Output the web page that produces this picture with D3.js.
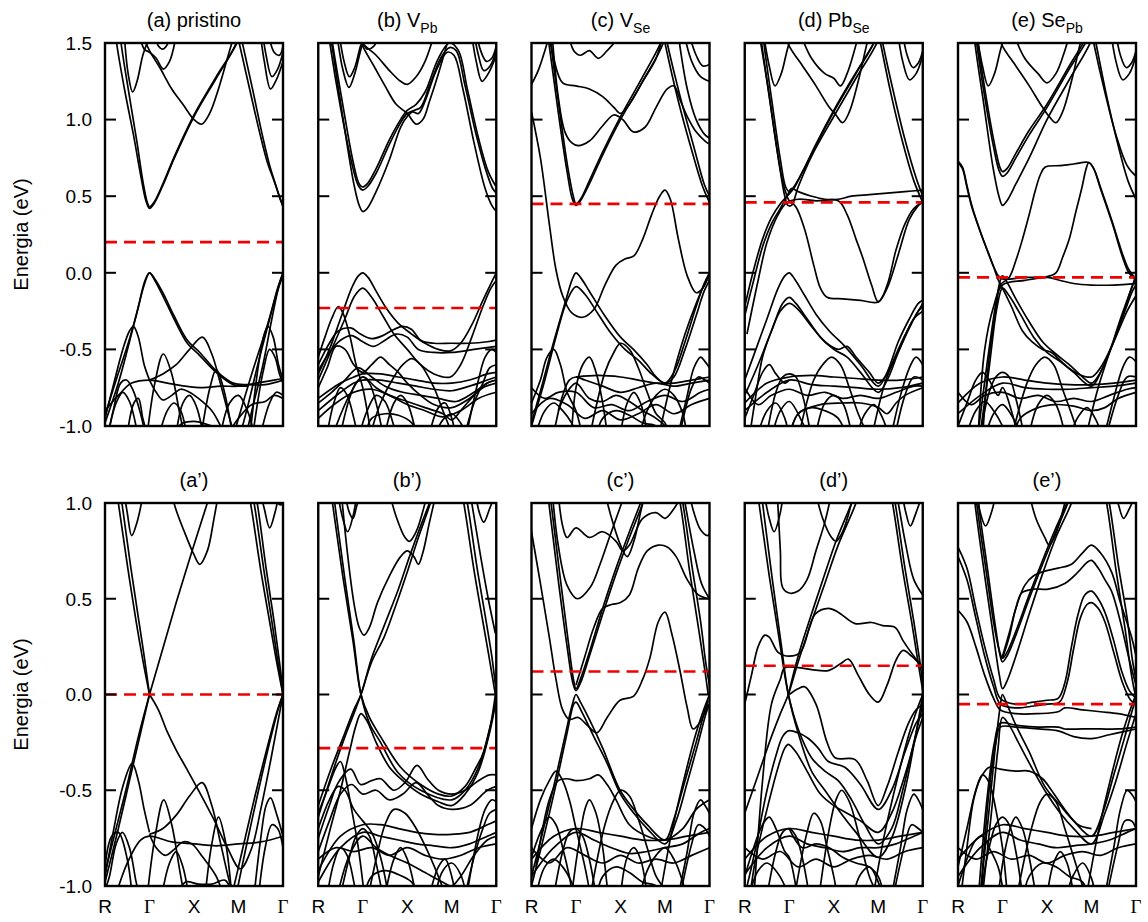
<!DOCTYPE html>
<html>
<head>
<meta charset="utf-8">
<script src="https://cdn.jsdelivr.net/npm/d3@7"></script>
<style>
  html, body { margin: 0; padding: 0; background: #fff; }
  svg { display: block; }
  text { font-family: "Liberation Sans", Arial, Helvetica, sans-serif; fill: #000; }
</style>
</head>
<body>
<svg id="chart" width="1148" height="922"></svg>
<script>
// ---- k-path and axis labels ----
const kLabels = ["R", "Γ", "X", "M", "Γ"];
const kTicks = [0, 1, 2, 3, 4];
const yTicksTop = [-1.0, -0.5, 0.0, 0.5, 1.0, 1.5];
const yTicksBottom = [-1.0, -0.5, 0.0, 0.5, 1.0];

// ---- panel titles (main text, subscript) ----
const titlesTop = ["(a) pristino", "(b) V", "(c) V", "(d) Pb", "(e) Se"];
const subsTop = ["", "Pb", "Se", "Se", "Pb"];
const titlesBottom = ["(a’)", "(b’)", "(c’)", "(d’)", "(e’)"];

// ---- Fermi levels (eV) ----
const fermiTop = [0.20, -0.23, 0.45, 0.46, -0.03];
const fermiBottom = [0.00, -0.28, 0.12, 0.15, -0.05];

// ---- bands: each band is a list of [k, E] points along R-Γ-X-M-Γ ----
const bandsA = [
  [[0.1,1.9],[0.26,1.5],[0.45,1.18],[0.64,0.9],[0.8,0.64],[0.92,0.47],[1,0.42],[1.1,0.45],[1.3,0.57],[1.56,0.75],[2,1.02],[2.5,1.27],[3,1.52],[3.2,1.7]],
  [[0.2,1.9],[0.36,1.5],[0.55,1.15],[0.72,0.85],[0.85,0.6],[0.95,0.46],[1,0.43],[1.1,0.46],[1.3,0.58],[1.56,0.76],[2,1.03],[2.5,1.28],[2.95,1.5],[3.1,1.7]],
  [[2.7,1.9],[3.0,1.52],[3.25,1.2],[3.48,0.91],[3.65,0.72],[3.8,0.6],[3.92,0.5],[4,0.43]],
  [[2.8,1.9],[3.05,1.55],[3.3,1.22],[3.55,0.88],[3.7,0.7],[3.85,0.56],[3.95,0.47],[4,0.44]],
  [[0.85,1.55],[1,1.45],[1.25,1.33],[1.5,1.2],[1.75,1.1],[2,1.0],[2.17,0.97],[2.35,1.04],[2.55,1.2],[2.75,1.4],[2.9,1.55]],
  [[0.75,1.6],[0.88,1.46],[1,1.44],[1.15,1.4],[1.31,1.33],[1.45,1.38],[1.6,1.55]],
  [[0.42,1.6],[0.52,1.3],[0.62,1.18],[0.72,1.25],[0.85,1.42],[0.95,1.5],[1.05,1.55]],
  [[3.45,1.65],[3.58,1.38],[3.72,1.2],[3.85,1.26],[4,1.38]],
  [[3.5,1.65],[3.62,1.42],[3.75,1.28],[3.88,1.33],[4,1.44]],
  [[3.65,1.6],[3.8,1.44],[3.92,1.42],[4,1.48]],
  [[1.1,1.6],[1.2,1.48],[1.3,1.46],[1.45,1.52],[1.5,1.6]],
  [[0,-0.98],[0.3,-0.72],[0.55,-0.45],[0.75,-0.22],[0.9,-0.05],[1,0],[1.12,-0.04],[1.3,-0.13],[1.55,-0.28],[1.85,-0.44],[2.13,-0.52],[2.5,-0.64],[2.88,-0.72],[3.2,-0.73],[3.6,-0.73],[4,-0.7]],
  [[0,-0.93],[0.25,-0.7],[0.5,-0.48],[0.7,-0.28],[0.88,-0.08],[1,0],[1.12,-0.05],[1.3,-0.15],[1.55,-0.3],[1.85,-0.46],[2.13,-0.54],[2.5,-0.65],[2.88,-0.73],[3.2,-0.74]],
  [[0,-0.95],[0.2,-0.72],[0.4,-0.5],[0.55,-0.38],[0.64,-0.35],[0.75,-0.42],[0.88,-0.6],[1,-0.7]],
  [[2.8,-1.15],[3.05,-0.9],[3.33,-0.63],[3.63,-0.36],[3.85,-0.14],[4,0]],
  [[2.95,-1.15],[3.2,-0.88],[3.45,-0.58],[3.7,-0.3],[3.88,-0.1],[4,0]],
  [[3.1,-1.15],[3.3,-0.9],[3.55,-0.6],[3.75,-0.3],[3.9,-0.1],[4,-0.02]],
  [[3.25,-1.08],[3.45,-0.6],[3.58,-0.4],[3.66,-0.35],[3.78,-0.42],[3.9,-0.6],[4,-0.7]],
  [[3.3,-1.1],[3.55,-0.65],[3.7,-0.5],[3.82,-0.55],[3.92,-0.66],[4,-0.72]],
  [[1,-0.7],[1.3,-0.66],[1.6,-0.6],[1.9,-0.5],[2.19,-0.42],[2.4,-0.53],[2.6,-0.73],[2.8,-0.95],[2.9,-1.05]],
  [[0.95,-1.05],[1.12,-0.72],[1.31,-0.53],[1.5,-0.66],[1.68,-0.92],[1.78,-1.05]],
  [[2.15,-1.08],[2.35,-0.76],[2.5,-0.63],[2.65,-0.74],[2.88,-1.08]],
  [[0,-0.9],[0.3,-0.8],[0.6,-0.72],[1,-0.7],[1.4,-0.72],[1.8,-0.74],[2.2,-0.75],[2.6,-0.74],[3,-0.74],[3.4,-0.72],[3.8,-0.7],[4,-0.69]],
  [[0.05,-1.08],[0.2,-0.88],[0.35,-0.72],[0.48,-0.7],[0.62,-0.76],[0.8,-0.92],[0.9,-1.05]],
  [[1,-0.7],[1.15,-0.78],[1.3,-0.83],[1.5,-0.8],[1.7,-0.76],[1.9,-0.78],[2.1,-0.82],[2.4,-0.9],[2.6,-1.0],[2.75,-1.08]],
  [[1.6,-1.05],[1.75,-0.85],[1.9,-0.8],[2.05,-0.87],[2.2,-1.05]],
  [[1.55,-1.08],[1.7,-0.99],[2.0,-0.97],[2.3,-0.99],[2.6,-1.02]],
  [[2.6,-1.05],[2.8,-0.85],[3.0,-0.8],[3.2,-0.9],[3.35,-1.05]],
  [[3.5,-1.05],[3.7,-0.85],[3.85,-0.78],[4,-0.8]],
  [[0.5,-1.05],[0.65,-0.85],[0.75,-0.82],[0.85,-0.95],[0.95,-1.05]],
  [[0.05,-1.08],[0.25,-0.85],[0.4,-0.78],[0.55,-0.84],[0.75,-1.08]],
  [[1.2,-1.08],[1.4,-0.9],[1.55,-0.85],[1.7,-0.9],[1.85,-1.08]],
  [[2.7,-1.08],[3.0,-0.95],[3.3,-0.86],[3.6,-0.84],[3.8,-0.8],[4,-0.82]]
];

const bandsB = [
  [[0.1,1.9],[0.3,1.5],[0.55,1.02],[0.8,0.58],[0.92,0.44],[1,0.40],[1.1,0.42],[1.3,0.53],[1.6,0.74],[1.85,0.95],[2,1.02],[2.12,1.05],[2.25,1.04],[2.4,1.12],[2.65,1.32],[2.9,1.44],[3.05,1.42],[3.25,1.2],[3.5,0.85],[3.75,0.55],[3.9,0.44],[4,0.40]],
  [[0.1,1.85],[0.26,1.5],[0.5,1.08],[0.75,0.72],[0.9,0.57],[1,0.54],[1.1,0.56],[1.3,0.65],[1.6,0.84],[1.85,0.98],[2,1.04],[2.15,1.06],[2.3,1.08],[2.5,1.22],[2.75,1.4],[2.95,1.47],[3.1,1.45],[3.3,1.22],[3.55,0.9],[3.8,0.64],[3.92,0.55],[4,0.52]],
  [[0.15,1.85],[0.32,1.5],[0.55,1.1],[0.78,0.73],[0.92,0.58],[1,0.56],[1.1,0.58],[1.3,0.68],[1.6,0.87],[1.85,1.0],[2.0,1.06],[2.2,1.1],[2.4,1.18],[2.7,1.4],[2.95,1.5],[3.15,1.45],[3.35,1.2],[3.6,0.88],[3.82,0.66],[4,0.56]],
  [[0.9,1.6],[1.0,1.5],[1.3,1.42],[1.6,1.32],[1.85,1.25],[2.0,1.23],[2.2,1.28],[2.4,1.38],[2.65,1.6]],
  [[0.85,1.6],[1.0,1.48],[1.25,1.35],[1.5,1.22],[1.75,1.1],[2.0,1.04],[2.2,0.97],[2.35,1.0],[2.5,1.12],[2.7,1.3],[2.9,1.5]],
  [[0.4,1.6],[0.55,1.33],[0.69,1.21],[0.82,1.3],[0.95,1.45],[1.05,1.55]],
  [[0.45,1.6],[0.58,1.38],[0.7,1.28],[0.82,1.34],[0.95,1.48],[1.05,1.55]],
  [[3.4,1.65],[3.55,1.38],[3.68,1.25],[3.82,1.3],[4,1.42]],
  [[3.45,1.65],[3.6,1.42],[3.72,1.32],[3.86,1.35],[4,1.45]],
  [[3.5,1.65],[3.65,1.45],[3.78,1.38],[3.9,1.4],[4,1.48]],
  [[0.9,1.6],[1.0,1.5],[1.1,1.46],[1.25,1.48],[1.4,1.58]],
  [[0,-0.66],[0.25,-0.5],[0.5,-0.3],[0.75,-0.1],[0.9,-0.02],[1,0],[1.12,-0.03],[1.3,-0.12],[1.55,-0.24],[1.8,-0.33],[2.1,-0.4],[2.4,-0.46],[2.7,-0.5],[2.97,-0.51],[3.2,-0.46],[3.45,-0.34],[3.7,-0.18],[3.88,-0.07],[4,0]],
  [[0,-0.7],[0.3,-0.5],[0.6,-0.3],[0.82,-0.15],[1,-0.1],[1.2,-0.16],[1.45,-0.28],[1.7,-0.4],[2.0,-0.5],[2.3,-0.6],[2.6,-0.66],[2.97,-0.68],[3.2,-0.6],[3.45,-0.42],[3.7,-0.22],[3.88,-0.1],[4,-0.05]],
  [[0,-0.6],[0.25,-0.46],[0.45,-0.38],[0.73,-0.36],[0.95,-0.4],[1.2,-0.43],[1.45,-0.41],[1.7,-0.37],[1.9,-0.35],[2.1,-0.37],[2.3,-0.44],[2.6,-0.46],[3,-0.46],[3.4,-0.46],[3.8,-0.45],[4,-0.44]],
  [[0,-0.64],[0.25,-0.52],[0.5,-0.44],[0.75,-0.41],[1.0,-0.45],[1.25,-0.48],[1.5,-0.44],[1.75,-0.4],[2.0,-0.42],[2.25,-0.5],[2.6,-0.52],[3,-0.52],[3.5,-0.5],[4,-0.48]],
  [[0,-0.55],[0.15,-0.42],[0.3,-0.3],[0.45,-0.22],[0.55,-0.26],[0.7,-0.4],[0.85,-0.6],[1.0,-0.75],[1.2,-1.08]],
  [[0,-0.75],[0.2,-0.62],[0.4,-0.48],[0.6,-0.5],[0.8,-0.6],[1,-0.65],[1.2,-0.6],[1.4,-0.55],[1.6,-0.6],[1.8,-0.65],[2.0,-0.72],[2.3,-0.8],[2.6,-0.86],[3.0,-0.88],[3.4,-0.82],[3.7,-0.75],[4,-0.72]],
  [[0,-0.82],[0.5,-0.72],[0.8,-0.68],[1.0,-0.66],[1.4,-0.66],[1.8,-0.68],[2.2,-0.7],[2.6,-0.72],[3,-0.72],[3.4,-0.7],[3.8,-0.66],[4,-0.65]],
  [[0,-0.9],[0.5,-0.78],[0.8,-0.72],[1.0,-0.7],[1.4,-0.7],[1.8,-0.72],[2.2,-0.74],[2.6,-0.76],[3,-0.77],[3.4,-0.74],[3.8,-0.7],[4,-0.68]],
  [[0.3,-1.08],[0.7,-0.8],[1.0,-0.68],[1.3,-0.75],[1.6,-0.8],[2,-0.84],[2.4,-0.88],[2.8,-0.92],[3,-0.96],[3.2,-0.9],[3.5,-0.8],[3.8,-0.72],[4,-0.7]],
  [[0.5,-1.05],[0.7,-0.82],[0.85,-0.72],[1,-0.68],[1.15,-0.72],[1.3,-0.85],[1.45,-1.05]],
  [[1.5,-1.05],[1.7,-0.85],[1.85,-0.8],[2.0,-0.85],[2.2,-1.05]],
  [[1.15,-1.08],[1.4,-0.85],[1.7,-0.68],[1.9,-0.6],[2.1,-0.56],[2.3,-0.6],[2.6,-0.75],[2.8,-0.9],[3.05,-1.08]],
  [[0.2,-1.05],[0.35,-0.85],[0.5,-0.75],[0.65,-0.8],[0.8,-0.95],[0.9,-1.08]],
  [[2.5,-1.05],[2.7,-0.88],[2.85,-0.85],[3.0,-0.95],[3.1,-1.08]],
  [[3.3,-1.05],[3.5,-0.85],[3.7,-0.72],[3.85,-0.62],[4,-0.6]],
  [[3.3,-1.1],[3.6,-0.7],[3.75,-0.55],[3.9,-0.5],[4,-0.52]],
  [[1.05,-1.08],[1.2,-0.95],[1.5,-0.92],[1.8,-0.93],[2.1,-0.98],[2.25,-1.08]],
  [[0,-0.85],[0.3,-0.78],[0.6,-0.7],[0.9,-0.62],[1.2,-0.68],[1.5,-0.74],[1.9,-0.78],[2.3,-0.8],[2.7,-0.82],[3.1,-0.84],[3.5,-0.78],[3.8,-0.72],[4,-0.7]],
  [[0,-0.95],[0.4,-0.85],[0.8,-0.78],[1.2,-0.76],[1.6,-0.8],[2.0,-0.86],[2.4,-0.9],[2.8,-0.94],[3.2,-0.9],[3.6,-0.82],[4,-0.78]],
  [[0.9,-1.08],[1.1,-0.9],[1.3,-0.8],[1.5,-0.84],[1.7,-1.0],[1.8,-1.08]],
  [[2.6,-1.08],[2.8,-0.96],[3.0,-0.92],[3.2,-0.98],[3.35,-1.08]]
];

const bandsC = [
  [[0,1.05],[0.2,0.75],[0.4,0.32],[0.55,0.02],[0.7,-0.15],[0.9,-0.26],[1.15,-0.29],[1.4,-0.24],[1.65,-0.08],[1.9,0.05],[2.1,0.09],[2.3,0.11],[2.5,0.22],[2.7,0.38],[2.88,0.5],[3.0,0.54],[3.12,0.48],[3.3,0.22],[3.5,-0.02],[3.7,-0.13],[3.85,-0.1],[4,0.0]],
  [[0.15,2.0],[0.39,1.5],[0.6,1.05],[0.8,0.66],[0.92,0.48],[1,0.44],[1.1,0.47],[1.3,0.58],[1.6,0.77],[2,1.0],[2.5,1.25],[2.96,1.5],[3.1,1.7]],
  [[0.2,2.0],[0.43,1.5],[0.63,1.06],[0.82,0.68],[0.94,0.5],[1,0.45],[1.1,0.48],[1.3,0.6],[1.6,0.79],[2,1.02],[2.5,1.28],[2.9,1.5],[3.0,1.6]],
  [[2.8,1.8],[3.0,1.5],[3.3,1.12],[3.6,0.8],[3.85,0.56],[4,0.46]],
  [[2.85,1.8],[3.05,1.5],[3.35,1.14],[3.65,0.82],[3.88,0.58],[4,0.5]],
  [[0.45,1.6],[0.6,1.15],[0.75,0.92],[0.9,0.85],[1.05,0.83],[1.3,0.86],[1.6,0.96],[1.85,1.03],[2.05,1.0],[2.29,0.92],[2.55,0.95],[2.8,1.08],[3.05,1.2],[3.2,1.22],[3.35,1.12],[3.5,1.02],[3.7,0.92],[3.9,0.86],[4,0.84]],
  [[3.3,1.55],[3.5,1.2],[3.7,1.0],[3.9,0.9],[4,0.88]],
  [[0.4,1.6],[0.5,1.4],[0.7,1.24],[1.0,1.22],[1.3,1.2],[1.6,1.15],[1.85,1.08],[2.0,1.04],[2.2,1.1],[2.5,1.25],[2.8,1.4],[2.95,1.55]],
  [[0,1.23],[0.15,1.32],[0.3,1.45],[0.4,1.55]],
  [[3.4,1.6],[3.6,1.38],[3.8,1.28],[4,1.25]],
  [[3.5,1.6],[3.7,1.42],[3.85,1.35],[4,1.36]],
  [[0.8,1.6],[0.95,1.45],[1.1,1.42],[1.3,1.45],[1.5,1.4],[1.7,1.45],[2,1.55]],
  [[0,-0.98],[0.25,-0.72],[0.5,-0.45],[0.75,-0.2],[0.92,-0.04],[1,0],[1.1,-0.03],[1.3,-0.12],[1.6,-0.26],[2,-0.42],[2.29,-0.5],[2.6,-0.6],[2.8,-0.68],[3.0,-0.72],[3.2,-0.65],[3.45,-0.45],[3.7,-0.22],[3.88,-0.07],[4,0]],
  [[0,-1.0],[0.3,-0.7],[0.55,-0.42],[0.8,-0.18],[1,-0.09],[1.2,-0.14],[1.5,-0.27],[1.8,-0.4],[2.1,-0.5],[2.4,-0.57],[2.7,-0.66],[3,-0.72],[3.2,-0.68],[3.45,-0.5],[3.7,-0.28],[3.88,-0.12],[4,-0.05]],
  [[2.85,-1.08],[3.15,-0.7],[3.45,-0.4],[3.7,-0.2],[3.88,-0.08],[4,-0.02]],
  [[1.0,-0.68],[1.5,-0.67],[2.0,-0.68],[2.4,-0.7],[2.8,-0.72],[3.2,-0.72],[3.6,-0.7],[4,-0.68]],
  [[1.3,-1.08],[1.65,-0.65],[1.85,-0.52],[2.0,-0.46],[2.2,-0.5],[2.4,-0.62],[2.6,-0.78],[2.8,-0.92],[3,-0.98],[3.1,-1.08]],
  [[0.9,-1.05],[1.0,-0.75],[1.15,-0.6],[1.3,-0.55],[1.45,-0.65],[1.6,-0.85],[1.7,-1.05]],
  [[0.5,-1.05],[0.7,-0.8],[0.85,-0.7],[1,-0.68],[1.2,-0.7],[1.6,-0.74],[2,-0.78],[2.4,-0.75],[2.8,-0.72],[3.2,-0.74],[3.6,-0.72],[4,-0.7]],
  [[0,-0.85],[0.2,-0.7],[0.35,-0.55],[0.5,-0.5],[0.65,-0.6],[0.8,-0.78],[1.0,-0.9],[1.15,-1.08]],
  [[0.6,-0.9],[0.8,-0.78],[1.0,-0.72],[1.3,-0.82],[1.6,-0.84],[1.9,-0.8],[2.2,-0.84],[2.5,-0.9],[2.8,-0.95],[3.0,-1.0],[3.15,-1.08]],
  [[3.3,-1.05],[3.5,-0.8],[3.65,-0.62],[3.8,-0.55],[3.9,-0.58],[4,-0.62]],
  [[3.3,-1.1],[3.6,-0.75],[3.75,-0.68],[3.9,-0.7],[4,-0.72]],
  [[2.0,-1.05],[2.15,-0.85],[2.3,-0.78],[2.45,-0.85],[2.6,-1.05]],
  [[0.1,-1.05],[0.3,-0.9],[0.5,-0.85],[0.7,-0.9],[0.9,-0.98],[1.05,-1.08]],
  [[1.45,-1.08],[1.6,-0.95],[1.9,-0.9],[2.2,-0.93],[2.5,-0.98],[2.8,-1.0],[2.95,-1.08]],
  [[0,-0.75],[0.3,-0.82],[0.6,-0.78],[1.0,-0.78],[1.4,-0.88],[1.8,-0.86],[2.2,-0.9],[2.6,-0.84],[3.0,-0.8],[3.4,-0.84],[3.8,-0.78],[4,-0.76]],
  [[0,-0.92],[0.4,-0.82],[0.8,-0.86],[1.2,-0.95],[1.6,-0.9],[2.0,-0.96],[2.4,-0.92],[2.8,-0.86],[3.2,-0.92],[3.6,-0.86],[4,-0.82]],
  [[2.4,-1.08],[2.6,-0.9],[2.8,-0.8],[3.0,-0.76],[3.2,-0.8],[3.4,-0.92],[3.5,-1.08]]
];

const bandsD = [
  [[0.2,2.0],[0.38,1.5],[0.58,1.1],[0.78,0.7],[0.9,0.5],[0.97,0.44],[1.05,0.44],[1.2,0.56],[1.5,0.76],[2,1.02],[2.5,1.27],[3.0,1.52],[3.15,1.7]],
  [[0.25,2.0],[0.43,1.5],[0.62,1.1],[0.8,0.74],[0.92,0.56],[1.0,0.53],[1.1,0.56],[1.3,0.66],[1.6,0.83],[2,1.05],[2.5,1.3],[2.9,1.5],[3.0,1.6]],
  [[0,-0.22],[0.2,0.02],[0.4,0.22],[0.6,0.36],[0.8,0.45],[0.95,0.5],[1.1,0.55],[1.3,0.66],[1.6,0.84],[2,1.06],[2.4,1.26],[2.8,1.45],[3.0,1.55]],
  [[2.85,1.8],[3.05,1.5],[3.3,1.15],[3.55,0.85],[3.8,0.6],[4,0.46]],
  [[2.9,1.8],[3.1,1.5],[3.35,1.17],[3.6,0.87],[3.85,0.62],[4,0.5]],
  [[0,-0.28],[0.2,-0.05],[0.4,0.17],[0.6,0.32],[0.8,0.42],[0.95,0.5],[1.05,0.55],[1.2,0.53],[1.5,0.5],[1.8,0.48],[2.1,0.48],[2.4,0.5],[2.8,0.51],[3.2,0.52],[3.6,0.53],[4,0.54]],
  [[0.3,1.6],[0.5,1.25],[0.7,0.85],[0.85,0.6],[0.95,0.5],[1.0,0.47],[1.15,0.43],[1.35,0.28],[1.55,0.05],[1.7,-0.1],[1.85,-0.16],[2.2,-0.17],[2.6,-0.18],[3.0,-0.19],[3.2,-0.08],[3.4,0.15],[3.6,0.32],[3.8,0.42],[4,0.46]],
  [[0.05,-0.4],[0.3,-0.05],[0.5,0.2],[0.75,0.38],[0.95,0.46],[1.2,0.48],[1.6,0.47],[2.1,0.47],[2.3,0.38],[2.5,0.22],[2.65,0.1],[2.85,-0.08],[3.0,-0.19],[3.2,-0.1],[3.45,0.12],[3.7,0.35],[3.9,0.44],[4,0.47]],
  [[1.2,1.6],[1.5,1.4],[1.8,1.3],[2.0,1.27],[2.15,1.22],[2.3,1.3],[2.6,1.6]],
  [[0.85,1.6],[1.0,1.48],[1.3,1.35],[1.6,1.22],[1.9,1.08],[2.05,1.03],[2.2,0.98],[2.35,1.05],[2.55,1.25],[2.75,1.5],[2.85,1.6]],
  [[0.4,1.6],[0.55,1.35],[0.68,1.22],[0.82,1.3],[0.95,1.45],[1.05,1.55]],
  [[3.4,1.65],[3.55,1.38],[3.7,1.26],[3.85,1.3],[4,1.42]],
  [[3.5,1.65],[3.65,1.42],[3.78,1.34],[3.9,1.37],[4,1.45]],
  [[0,-0.7],[0.25,-0.5],[0.5,-0.3],[0.75,-0.1],[0.9,-0.02],[1,0],[1.12,-0.04],[1.35,-0.15],[1.6,-0.27],[1.9,-0.38],[2.25,-0.48],[2.6,-0.6],[3,-0.74],[3.2,-0.65],[3.45,-0.45],[3.7,-0.3],[3.9,-0.2],[4,-0.18]],
  [[0,-0.8],[0.3,-0.6],[0.6,-0.38],[0.85,-0.2],[1,-0.16],[1.15,-0.2],[1.4,-0.3],[1.7,-0.42],[2,-0.5],[2.3,-0.55],[2.6,-0.65],[3,-0.78],[3.2,-0.7],[3.45,-0.52],[3.7,-0.36],[3.9,-0.25],[4,-0.22]],
  [[0.1,-1.08],[0.25,-0.8],[0.4,-0.55],[0.6,-0.38],[0.8,-0.25],[1,-0.2],[1.2,-0.24],[1.5,-0.35],[1.8,-0.45],[2.1,-0.5],[2.3,-0.48],[2.5,-0.55],[2.8,-0.65],[3.0,-0.72],[3.2,-0.66],[3.5,-0.48],[3.8,-0.3],[4,-0.25]],
  [[2.85,-1.08],[3.15,-0.72],[3.45,-0.5],[3.7,-0.35],[3.9,-0.25],[4,-0.2]],
  [[0,-0.85],[0.5,-0.72],[1.0,-0.68],[1.5,-0.67],[2.0,-0.68],[2.5,-0.69],[3.0,-0.7],[3.5,-0.7],[4,-0.68]],
  [[0,-0.9],[0.5,-0.78],[1.0,-0.7],[1.5,-0.73],[2.0,-0.74],[2.5,-0.75],[3.0,-0.76],[3.5,-0.75],[4,-0.72]],
  [[0.5,-1.05],[0.7,-0.78],[0.85,-0.68],[1,-0.66],[1.15,-0.68],[1.3,-0.8],[1.5,-1.08]],
  [[1.2,-1.08],[1.55,-0.7],[1.75,-0.6],[1.95,-0.55],[2.15,-0.6],[2.35,-0.75],[2.55,-0.92],[2.75,-1.05]],
  [[0,-0.95],[0.2,-0.8],[0.4,-0.65],[0.55,-0.6],[0.7,-0.66],[0.9,-0.72],[1.0,-0.7]],
  [[1.6,-1.05],[1.8,-0.85],[2.0,-0.8],[2.2,-0.85],[2.4,-1.05]],
  [[1.0,-1.08],[1.2,-0.92],[1.7,-0.86],[2.2,-0.85],[2.6,-0.85],[3,-0.88],[3.2,-0.92],[3.4,-0.85],[3.6,-0.8],[4,-0.75]],
  [[3.3,-1.05],[3.5,-0.8],[3.7,-0.62],[3.85,-0.55],[4,-0.6]],
  [[3.35,-1.1],[3.6,-0.8],[3.8,-0.68],[4,-0.7]],
  [[0.3,-1.05],[0.5,-0.9],[0.7,-0.85],[0.9,-0.95],[1.0,-1.08]],
  [[1.0,-1.08],[1.2,-0.92],[1.5,-0.88],[1.8,-0.9],[2.1,-0.95],[2.3,-1.08]],
  [[0,-0.75],[0.3,-0.86],[0.6,-0.8],[1.0,-0.76],[1.4,-0.8],[1.8,-0.78],[2.2,-0.82],[2.6,-0.8],[3.0,-0.82],[3.4,-0.78],[3.8,-0.74],[4,-0.74]],
  [[0.6,-1.08],[0.8,-0.9],[1.0,-0.84],[1.3,-0.98],[1.45,-1.08]],
  [[2.5,-1.08],[2.7,-0.92],[2.9,-0.86],[3.1,-0.95],[3.25,-1.08]]
];

const bandsE = [
  [[0.2,2.0],[0.38,1.5],[0.58,1.1],[0.78,0.7],[0.92,0.5],[1,0.44],[1.1,0.47],[1.3,0.58],[1.6,0.75],[2,1.0],[2.5,1.26],[3.0,1.52],[3.15,1.7]],
  [[0.25,2.0],[0.42,1.5],[0.6,1.15],[0.8,0.82],[0.92,0.67],[1,0.63],[1.1,0.65],[1.3,0.75],[1.6,0.9],[2,1.08],[2.5,1.33],[2.9,1.52],[3.0,1.6]],
  [[0.28,2.0],[0.45,1.5],[0.63,1.15],[0.82,0.84],[0.94,0.69],[1,0.66],[1.1,0.68],[1.3,0.78],[1.6,0.93],[2,1.1],[2.5,1.35],[2.85,1.52],[2.95,1.6]],
  [[2.85,1.8],[3.05,1.5],[3.3,1.18],[3.55,0.9],[3.8,0.7],[4,0.63]],
  [[2.9,1.8],[3.1,1.5],[3.35,1.14],[3.6,0.83],[3.82,0.6],[4,0.48]],
  [[0,0.73],[0.1,0.69],[0.2,0.57],[0.31,0.44],[0.5,0.27],[0.68,0.13],[0.8,0.04],[0.91,-0.02],[1.0,-0.04],[1.5,-0.03],[2,-0.025],[2.2,0.0],[2.35,0.1],[2.5,0.22],[2.65,0.4],[2.78,0.55],[2.88,0.68],[2.94,0.72],[3.05,0.68],[3.2,0.55],[3.47,0.32],[3.7,0.1],[3.84,0.0],[4,-0.05]],
  [[0.55,-1.08],[0.7,-0.55],[0.85,-0.25],[0.95,-0.08],[1.15,-0.03],[1.3,0.08],[1.44,0.21],[1.6,0.38],[1.74,0.54],[1.85,0.64],[1.96,0.69],[2.3,0.7],[2.6,0.71],[2.94,0.72],[3.05,0.68],[3.2,0.56],[3.47,0.33],[3.7,0.12],[3.84,0.02],[4,-0.04]],
  [[0.45,-1.08],[0.6,-0.5],[0.8,-0.22],[1,-0.08],[1.5,-0.05],[2.0,-0.03],[2.3,-0.05],[2.6,-0.07],[3,-0.08],[3.5,-0.08],[4,-0.07]],
  [[0,0.72],[0.1,0.68],[0.2,0.56],[0.31,0.43],[0.5,0.27],[0.68,0.13],[0.8,0.04],[0.91,-0.05],[1.0,-0.1],[1.2,-0.22],[1.45,-0.38],[1.66,-0.45],[1.9,-0.5],[2.1,-0.52],[2.4,-0.6],[2.7,-0.66],[3.0,-0.68],[3.2,-0.62],[3.5,-0.45],[3.8,-0.25],[4,-0.15]],
  [[0.45,-1.05],[0.65,-0.6],[0.85,-0.2],[0.95,-0.05],[1,-0.02],[1.1,-0.06],[1.3,-0.17],[1.6,-0.32],[1.9,-0.45],[2.2,-0.53],[2.5,-0.6],[2.8,-0.68],[3.0,-0.72],[3.2,-0.65],[3.45,-0.48],[3.7,-0.28],[3.9,-0.1],[4,-0.03]],
  [[0.5,-1.05],[0.7,-0.62],[0.88,-0.22],[1,-0.1],[1.15,-0.15],[1.4,-0.27],[1.7,-0.42],[2,-0.52],[2.3,-0.58],[2.6,-0.65],[3.0,-0.74],[3.25,-0.62],[3.5,-0.45],[3.75,-0.25],[3.92,-0.12],[4,-0.08]],
  [[0,-0.85],[0.5,-0.72],[1,-0.68],[1.5,-0.7],[2.0,-0.72],[2.5,-0.73],[3,-0.73],[3.5,-0.72],[4,-0.7]],
  [[0,-0.92],[0.5,-0.8],[1,-0.72],[1.5,-0.75],[2,-0.76],[2.5,-0.76],[3,-0.75],[3.5,-0.74],[4,-0.72]],
  [[0.5,-1.05],[0.7,-0.78],[0.85,-0.68],[1,-0.65],[1.15,-0.68],[1.3,-0.82],[1.5,-1.08]],
  [[1.2,-1.08],[1.55,-0.72],[1.75,-0.6],[1.95,-0.55],[2.15,-0.6],[2.35,-0.76],[2.55,-0.92],[2.7,-1.05]],
  [[0,-1.0],[0.2,-0.85],[0.4,-0.7],[0.55,-0.65],[0.7,-0.7],[0.9,-0.8],[1.0,-0.75],[1.2,-0.9],[1.35,-1.08]],
  [[3.3,-1.05],[3.5,-0.82],[3.7,-0.62],[3.85,-0.55],[4,-0.58]],
  [[3.3,-1.1],[3.6,-0.8],[3.8,-0.68],[4,-0.68]],
  [[1.6,-1.05],[1.8,-0.86],[2,-0.8],[2.2,-0.86],[2.4,-1.05]],
  [[1.25,-1.08],[1.4,-0.95],[1.8,-0.88],[2.2,-0.86],[2.6,-0.87],[3,-0.9],[3.3,-0.88],[3.6,-0.82],[4,-0.78]],
  [[0.2,-1.05],[0.4,-0.9],[0.6,-0.84],[0.8,-0.9],[1,-1.0],[1.1,-1.08]],
  [[2.85,-1.1],[3.15,-0.75],[3.45,-0.48],[3.7,-0.26],[3.9,-0.1],[4,-0.02]],
  [[0.4,1.6],[0.55,1.35],[0.68,1.22],[0.82,1.3],[0.95,1.45],[1.05,1.55]],
  [[0.85,1.6],[1.0,1.48],[1.3,1.35],[1.6,1.22],[1.9,1.08],[2.05,1.02],[2.2,0.98],[2.35,1.05],[2.55,1.25],[2.75,1.5],[2.85,1.6]],
  [[1.2,1.6],[1.5,1.4],[1.8,1.3],[2.0,1.24],[2.2,1.3],[2.4,1.45],[2.5,1.55]],
  [[3.4,1.65],[3.55,1.38],[3.7,1.26],[3.85,1.3],[4,1.42]],
  [[3.5,1.65],[3.65,1.42],[3.78,1.34],[3.9,1.37],[4,1.45]],
  [[0,-0.78],[0.3,-0.86],[0.6,-0.8],[1.0,-0.78],[1.4,-0.82],[1.8,-0.8],[2.2,-0.84],[2.6,-0.82],[3.0,-0.84],[3.4,-0.8],[3.8,-0.76],[4,-0.75]],
  [[0.6,-1.08],[0.8,-0.92],[1.0,-0.86],[1.3,-0.98],[1.45,-1.08]],
  [[2.5,-1.08],[2.7,-0.94],[2.9,-0.88],[3.1,-0.96],[3.25,-1.08]]
];

const bandsA2 = [
  [[0.1,1.35],[0.3,1.0],[0.5,0.68],[0.7,0.38],[0.85,0.18],[1,0]],
  [[0.18,1.35],[0.38,1.0],[0.57,0.68],[0.75,0.4],[0.88,0.2],[1,0]],
  [[1,0],[1.3,0.24],[1.6,0.48],[1.93,0.73],[2.3,1.0],[2.6,1.22]],
  [[1.4,1.2],[1.55,1.0],[1.8,0.84],[2.0,0.73],[2.13,0.68],[2.3,0.75],[2.45,0.92],[2.55,1.05]],
  [[0.4,1.1],[0.5,0.95],[0.6,0.83],[0.72,0.9],[0.86,1.05]],
  [[3.1,1.2],[3.27,1.0],[3.5,0.65],[3.7,0.38],[3.85,0.18],[4,0]],
  [[3.18,1.2],[3.35,1.0],[3.57,0.65],[3.75,0.38],[3.88,0.18],[4,0]],
  [[3.25,1.2],[3.42,1.0],[3.62,0.66],[3.8,0.38],[3.92,0.17],[4,0.02]],
  [[3.45,1.1],[3.58,0.97],[3.7,0.87],[3.82,0.95],[3.95,1.1]],
  [[3.8,1.05],[3.88,1.0],[3.95,0.99],[4,1.0]],
  [[0,-0.93],[0.25,-0.7],[0.5,-0.47],[0.75,-0.22],[1,0]],
  [[0,-0.98],[0.3,-0.7],[0.55,-0.45],[0.8,-0.2],[1,0]],
  [[1,0],[1.2,-0.08],[1.39,-0.19],[1.6,-0.29],[1.84,-0.39],[2.1,-0.5],[2.44,-0.65],[2.75,-0.8],[3.04,-0.91],[3.3,-0.8],[3.5,-0.6],[3.71,-0.36],[3.88,-0.15],[4,0]],
  [[2.8,-1.1],[3.05,-0.85],[3.35,-0.55],[3.62,-0.3],[3.85,-0.1],[4,0]],
  [[2.9,-1.1],[3.15,-0.82],[3.45,-0.5],[3.7,-0.25],[3.9,-0.07],[4,0]],
  [[0,-0.95],[0.2,-0.7],[0.4,-0.48],[0.61,-0.36],[0.75,-0.45],[0.88,-0.6],[1,-0.72]],
  [[1,-0.73],[1.3,-0.7],[1.6,-0.63],[1.9,-0.53],[2.18,-0.46],[2.4,-0.58],[2.6,-0.78],[2.8,-0.98],[2.9,-1.05]],
  [[0.95,-1.05],[1.12,-0.75],[1.32,-0.55],[1.5,-0.68],[1.68,-0.92],[1.78,-1.05]],
  [[2.25,-1.05],[2.4,-0.78],[2.55,-0.64],[2.7,-0.76],[2.85,-1.05]],
  [[0.2,-1.08],[0.5,-0.88],[0.8,-0.76],[1,-0.74],[1.5,-0.77],[2,-0.78],[2.5,-0.79],[3,-0.78],[3.5,-0.77],[4,-0.74]],
  [[0,-1.02],[0.1,-0.95],[0.25,-0.78],[0.39,-0.72],[0.55,-0.8],[0.7,-0.98],[0.78,-1.05]],
  [[1,-0.73],[1.15,-0.8],[1.36,-0.84],[1.55,-0.81],[1.75,-0.77],[1.95,-0.78],[2.2,-0.85],[2.5,-0.95],[2.7,-1.08]],
  [[3.35,-1.05],[3.5,-0.75],[3.62,-0.58],[3.72,-0.54],[3.85,-0.62],[4,-0.74]],
  [[3.45,-1.05],[3.6,-0.8],[3.75,-0.68],[3.88,-0.7],[4,-0.8]],
  [[1.6,-1.08],[1.8,-0.98],[2.1,-0.99],[2.4,-0.99],[2.7,-0.97],[2.9,-1.08]],
  [[0,-0.9],[0.15,-0.74],[0.3,-0.72],[0.5,-0.86],[0.62,-1.08]],
  [[1.25,-1.08],[1.45,-0.88],[1.6,-0.82],[1.75,-0.9],[1.9,-1.08]]
];

const bandsB2 = [
  [[0.1,1.4],[0.32,1.0],[0.55,0.62],[0.78,0.28],[0.96,0.0],[1.15,-0.12],[1.4,-0.22],[1.85,-0.38],[2.3,-0.47],[2.7,-0.52],[3.0,-0.53],[3.3,-0.48],[3.55,-0.38],[3.72,-0.3],[3.88,-0.15],[3.98,0]],
  [[0,-0.64],[0.3,-0.42],[0.6,-0.22],[0.8,-0.1],[0.96,0],[1.2,0.17],[1.48,0.3],[1.75,0.47],[2.0,0.64],[2.25,0.82],[2.52,1.0],[2.7,1.15]],
  [[0,-0.58],[0.3,-0.38],[0.6,-0.2],[0.8,-0.08],[0.96,0],[1.2,0.19],[1.5,0.37],[1.8,0.55],[2.05,0.72],[2.3,0.88],[2.5,1.0],[2.65,1.1]],
  [[0.15,1.4],[0.37,1.0],[0.6,0.6],[0.8,0.28],[0.96,0.0],[1.15,-0.15],[1.4,-0.25],[1.8,-0.41],[2.3,-0.5],[3,-0.55],[3.3,-0.5],[3.6,-0.38],[3.85,-0.18],[4,-0.02]],
  [[0.5,1.1],[0.65,0.75],[0.8,0.48],[0.92,0.35],[1.03,0.31],[1.15,0.35],[1.33,0.48],[1.6,0.62],[1.85,0.72],[2.0,0.75],[2.15,0.72],[2.25,0.68],[2.35,0.74],[2.5,0.9],[2.65,1.05]],
  [[1.55,1.1],[1.75,0.93],[1.95,0.82],[2.05,0.8],[2.2,0.85],[2.4,1.0],[2.5,1.1]],
  [[0.4,1.1],[0.55,0.92],[0.66,0.85],[0.78,0.93],[0.9,1.1]],
  [[0.6,1.05],[0.7,0.95],[0.78,0.92],[0.86,0.98],[0.95,1.05]],
  [[3.1,1.2],[3.27,1.0],[3.5,0.65],[3.7,0.38],[3.85,0.18],[3.98,0]],
  [[3.18,1.2],[3.35,1.0],[3.57,0.66],[3.76,0.4],[3.9,0.2],[3.98,0.05]],
  [[3.3,1.2],[3.45,1.0],[3.65,0.72],[3.82,0.5],[3.98,0.32]],
  [[3.5,1.1],[3.62,0.95],[3.72,0.9],[3.85,0.97],[3.98,1.05]],
  [[0,-0.95],[0.25,-0.72],[0.5,-0.5],[0.7,-0.3],[0.85,-0.16],[0.96,-0.1],[1.1,-0.14],[1.3,-0.25],[1.6,-0.38],[1.9,-0.45],[2.3,-0.52],[2.7,-0.56],[3.0,-0.58],[3.3,-0.52],[3.6,-0.4],[3.85,-0.2],[3.98,-0.05]],
  [[0,-0.75],[0.25,-0.58],[0.45,-0.46],[0.73,-0.39],[0.95,-0.47],[1.2,-0.45],[1.4,-0.44],[1.7,-0.5],[1.95,-0.46],[2.22,-0.37],[2.45,-0.44],[2.7,-0.5],[3.0,-0.52],[3.3,-0.5],[3.6,-0.45],[3.85,-0.42],[4,-0.42]],
  [[0,-0.82],[0.25,-0.66],[0.5,-0.52],[0.75,-0.47],[1.0,-0.52],[1.3,-0.5],[1.6,-0.55],[1.9,-0.52],[2.2,-0.46],[2.45,-0.52],[2.7,-0.58],[3.0,-0.6],[3.4,-0.58],[3.8,-0.5],[4,-0.48]],
  [[0,-0.62],[0.2,-0.5],[0.4,-0.38],[0.5,-0.35],[0.6,-0.42],[0.75,-0.6],[0.9,-0.8],[1.05,-1.08]],
  [[0,-0.7],[0.25,-0.55],[0.45,-0.48],[0.6,-0.5],[0.8,-0.6],[1,-0.66],[1.2,-0.72],[1.4,-0.85],[1.6,-1.08]],
  [[0,-0.92],[0.5,-0.74],[1.0,-0.68],[1.4,-0.68],[1.8,-0.7],[2.2,-0.72],[2.6,-0.73],[3,-0.73],[3.4,-0.72],[3.8,-0.68],[4,-0.66]],
  [[0,-0.98],[0.5,-0.8],[1.0,-0.72],[1.4,-0.74],[1.8,-0.76],[2.2,-0.78],[2.6,-0.79],[3,-0.8],[3.4,-0.78],[3.8,-0.74],[4,-0.72]],
  [[0.4,-1.08],[0.7,-0.84],[1.0,-0.74],[1.3,-0.8],[1.6,-0.84],[2,-0.88],[2.4,-0.93],[2.8,-0.98],[3.0,-1.0],[3.2,-0.95],[3.5,-0.84],[3.8,-0.76],[4,-0.74]],
  [[0.5,-1.05],[0.7,-0.85],[0.85,-0.74],[1,-0.7],[1.15,-0.74],[1.3,-0.88],[1.45,-1.05]],
  [[1.5,-1.05],[1.7,-0.86],[1.85,-0.8],[2.0,-0.86],[2.2,-1.05]],
  [[2.5,-1.05],[2.7,-0.9],[2.85,-0.86],[3.0,-0.95],[3.1,-1.08]],
  [[3.3,-1.05],[3.5,-0.85],[3.7,-0.7],[3.85,-0.62],[4,-0.6]],
  [[3.3,-1.1],[3.6,-0.72],[3.75,-0.6],[3.9,-0.55],[4,-0.56]],
  [[0.2,-1.05],[0.35,-0.88],[0.5,-0.8],[0.65,-0.84],[0.8,-0.98],[0.88,-1.08]],
  [[1.0,-1.08],[1.2,-0.95],[1.5,-0.92],[1.8,-0.94],[2.1,-0.98],[2.3,-1.08]],
  [[1.1,-1.08],[1.3,-0.86],[1.5,-0.68],[1.7,-0.6],[1.95,-0.62],[2.2,-0.7],[2.5,-0.84],[2.75,-0.98],[2.9,-1.08]],
  [[0,-0.86],[0.4,-0.8],[0.8,-0.82],[1.2,-0.8],[1.6,-0.84],[2.0,-0.8],[2.4,-0.84],[2.8,-0.86],[3.2,-0.84],[3.6,-0.8],[4,-0.78]],
  [[2.6,-1.08],[2.8,-0.92],[3.0,-0.88],[3.2,-0.94],[3.35,-1.08]]
];

const bandsC2 = [
  [[0.15,1.5],[0.39,1.0],[0.6,0.6],[0.8,0.25],[0.93,0.06],[1,0.02],[1.1,0.06],[1.3,0.2],[1.6,0.42],[1.9,0.63],[2.2,0.82],[2.5,1.0],[2.7,1.15]],
  [[0.2,1.5],[0.44,1.0],[0.64,0.62],[0.83,0.27],[0.95,0.07],[1,0.03],[1.1,0.08],[1.3,0.22],[1.6,0.45],[1.9,0.66],[2.2,0.85],[2.45,1.0],[2.6,1.1]],
  [[3.15,1.2],[3.34,1.0],[3.55,0.65],[3.75,0.35],[3.9,0.12],[3.97,0.0]],
  [[3.22,1.2],[3.4,1.0],[3.6,0.68],[3.8,0.38],[3.92,0.16],[4,0.05]],
  [[3.3,1.2],[3.45,1.0],[3.65,0.75],[3.82,0.58],[4,0.5]],
  [[0,-0.95],[0.25,-0.72],[0.5,-0.48],[0.75,-0.22],[0.92,-0.05],[1,0],[1.1,-0.04],[1.3,-0.13],[1.6,-0.28],[1.99,-0.5],[2.3,-0.6],[2.6,-0.68],[3,-0.76],[3.2,-0.65],[3.45,-0.45],[3.7,-0.25],[3.9,-0.08],[3.97,-0.03]],
  [[0,-1.0],[0.3,-0.72],[0.55,-0.47],[0.8,-0.2],[0.95,-0.05],[1.0,-0.04],[1.15,-0.1],[1.4,-0.22],[1.7,-0.36],[2,-0.52],[2.3,-0.62],[2.6,-0.7],[3,-0.78],[3.25,-0.66],[3.5,-0.46],[3.75,-0.25],[3.92,-0.1],[4,-0.05]],
  [[0,0.85],[0.2,0.58],[0.4,0.3],[0.55,0.08],[0.7,-0.08],[0.85,-0.13],[1.05,-0.12],[1.25,-0.16],[1.47,-0.2],[1.7,-0.12],[1.99,-0.03],[2.29,-0.01],[2.5,0.08],[2.66,0.19],[2.85,0.38],[3.0,0.43],[3.15,0.32],[3.34,0.12],[3.5,-0.07],[3.63,-0.18],[3.8,-0.14],[3.97,-0.05]],
  [[0.45,1.1],[0.6,0.78],[0.8,0.57],[1.03,0.5],[1.32,0.56],[1.54,0.68],[1.75,0.82],[1.95,0.95],[2.1,1.05]],
  [[1.0,0.05],[1.2,0.2],[1.4,0.35],[1.6,0.45],[1.8,0.47],[2.0,0.48],[2.2,0.52],[2.4,0.66],[2.6,0.75],[2.85,0.78],[3.05,0.77],[3.25,0.72],[3.5,0.6],[3.75,0.52],[4,0.5]],
  [[0.6,1.05],[0.7,0.88],[0.8,0.82],[1.0,0.87],[1.3,0.82],[1.6,0.85],[1.9,0.8],[2.05,0.75],[2.2,0.78],[2.5,0.92],[2.8,0.95],[3.0,0.92],[3.2,0.97],[3.4,1.05]],
  [[1.6,1.1],[1.8,0.92],[2.0,0.78],[2.15,0.72],[2.3,0.8],[2.45,0.95],[2.55,1.05]],
  [[3.5,1.1],[3.65,0.95],[3.8,0.86],[3.95,0.83],[4,0.84]],
  [[0.1,-0.9],[0.4,-0.55],[0.6,-0.45],[0.8,-0.44],[1.0,-0.45],[1.3,-0.44],[1.5,-0.42],[1.7,-0.47],[1.9,-0.55],[2.2,-0.68],[2.6,-0.74],[3,-0.76],[3.4,-0.7],[3.7,-0.6],[4,-0.55]],
  [[0,-0.7],[0.2,-0.55],[0.4,-0.45],[0.55,-0.4],[0.7,-0.45],[0.85,-0.55],[1.0,-0.7],[1.2,-0.9],[1.35,-1.08]],
  [[0,-0.86],[0.5,-0.74],[1.0,-0.7],[1.5,-0.72],[2.0,-0.74],[2.5,-0.76],[3.0,-0.76],[3.5,-0.74],[4,-0.72]],
  [[0,-0.95],[0.5,-0.8],[1.0,-0.72],[1.4,-0.76],[1.8,-0.8],[2.2,-0.83],[2.6,-0.82],[3.0,-0.8],[3.4,-0.78],[3.8,-0.72],[4,-0.7]],
  [[1.3,-1.08],[1.65,-0.68],[1.85,-0.55],[2.0,-0.5],[2.2,-0.53],[2.4,-0.65],[2.6,-0.8],[2.8,-0.95],[3.0,-1.02],[3.1,-1.08]],
  [[0.5,-1.05],[0.7,-0.82],[0.85,-0.72],[1.0,-0.7],[1.15,-0.74],[1.3,-0.86],[1.45,-1.05]],
  [[0.9,-1.05],[1.05,-0.8],[1.2,-0.6],[1.3,-0.55],[1.45,-0.62],[1.6,-0.8],[1.7,-1.0],[1.75,-1.08]],
  [[2.0,-1.05],[2.15,-0.85],[2.3,-0.8],[2.45,-0.86],[2.6,-1.05]],
  [[3.3,-1.05],[3.5,-0.82],[3.65,-0.62],[3.8,-0.55],[3.9,-0.58],[4,-0.62]],
  [[3.3,-1.1],[3.6,-0.78],[3.75,-0.68],[3.9,-0.7],[4,-0.74]],
  [[0,-0.85],[0.2,-0.72],[0.4,-0.64],[0.55,-0.68],[0.7,-0.8],[0.85,-0.95],[0.95,-1.08]],
  [[0.1,-1.05],[0.3,-0.9],[0.5,-0.86],[0.7,-0.9],[0.9,-0.98],[1.05,-1.08]],
  [[1.45,-1.08],[1.6,-0.95],[1.9,-0.9],[2.2,-0.93],[2.5,-0.98],[2.8,-1.0],[2.95,-1.08]],
  [[2.85,-1.1],[3.15,-0.72],[3.45,-0.42],[3.7,-0.2],[3.9,-0.06],[4,0]],
  [[0,-0.8],[0.4,-0.88],[0.8,-0.8],[1.2,-0.84],[1.6,-0.88],[2.0,-0.84],[2.4,-0.88],[2.8,-0.86],[3.2,-0.88],[3.6,-0.84],[4,-0.8]],
  [[2.4,-1.08],[2.6,-0.92],[2.8,-0.84],[3.0,-0.8],[3.2,-0.86],[3.4,-0.98],[3.5,-1.08]]
];

const bandsD2 = [
  [[0.1,1.4],[0.32,1.0],[0.55,0.62],[0.78,0.28],[0.98,0.0],[1.2,-0.18],[1.5,-0.33],[1.8,-0.4],[2.1,-0.45],[2.4,-0.55],[2.7,-0.68],[3.0,-0.78],[3.3,-0.7],[3.55,-0.5],[3.8,-0.25],[4,-0.05]],
  [[0,-0.62],[0.3,-0.42],[0.6,-0.22],[0.8,-0.1],[0.98,0],[1.2,0.17],[1.5,0.38],[1.8,0.58],[2.1,0.78],[2.5,1.0],[2.7,1.15]],
  [[0.98,0],[1.2,0.2],[1.5,0.42],[1.8,0.63],[2.05,0.8],[2.4,1.0],[2.55,1.1]],
  [[0.18,1.4],[0.4,1.0],[0.62,0.6],[0.82,0.26],[0.98,0.0],[1.2,-0.2],[1.5,-0.4],[1.8,-0.5],[2.1,-0.6],[2.5,-0.72],[3.0,-0.85],[3.3,-0.75],[3.6,-0.5],[3.85,-0.2],[4,0]],
  [[3.15,1.2],[3.32,1.0],[3.55,0.65],[3.75,0.38],[3.9,0.16],[4,0.02]],
  [[3.22,1.2],[3.38,1.0],[3.6,0.66],[3.8,0.38],[3.93,0.18],[4,0.06]],
  [[3.3,1.2],[3.45,1.0],[3.62,0.78],[3.8,0.6],[4,0.52]],
  [[0,-0.05],[0.15,0.1],[0.3,0.25],[0.45,0.31],[0.55,0.3],[0.75,0.22],[1,0.2],[1.25,0.22],[1.58,0.42],[1.88,0.45],[2.1,0.43],[2.48,0.37],[2.85,0.376],[3.1,0.36],[3.38,0.35],[3.56,0.28],[3.83,0.19],[4,0.14]],
  [[0.2,-1.08],[0.4,-0.45],[0.6,-0.05],[0.8,0.08],[0.9,0.14],[1.2,0.14],[1.5,0.13],[1.88,0.125],[2.15,0.16],[2.33,0.185],[2.55,0.1],[2.8,0.0],[3.0,-0.04],[3.2,0.05],[3.4,0.18],[3.56,0.23],[3.75,0.2],[4,0.14]],
  [[1.0,0.0],[1.2,0.03],[1.35,0.04],[1.6,-0.05],[1.85,-0.25],[2.03,-0.33],[2.48,-0.34],[2.75,-0.45],[3.0,-0.58],[3.2,-0.48],[3.45,-0.3],[3.68,-0.15],[3.85,-0.08],[4,-0.05]],
  [[0.72,1.1],[0.8,0.75],[0.85,0.56],[1,0.53],[1.2,0.54],[1.4,0.6],[1.6,0.75],[1.8,0.9],[1.95,1.05]],
  [[1.55,1.1],[1.75,0.92],[1.95,0.82],[2.05,0.8],[2.2,0.85],[2.4,1.0],[2.5,1.1]],
  [[0.4,1.1],[0.55,0.92],[0.66,0.85],[0.78,0.93],[0.9,1.1]],
  [[3.5,1.1],[3.62,0.95],[3.72,0.88],[3.85,0.95],[4,1.05]],
  [[0,-1.05],[0.2,-0.85],[0.5,-0.5],[0.7,-0.32],[0.85,-0.22],[0.98,-0.19],[1.2,-0.2],[1.43,-0.23],[1.65,-0.28],[1.88,-0.35],[2.25,-0.38],[2.6,-0.47],[3.0,-0.6],[3.3,-0.5],[3.6,-0.3],[3.85,-0.15],[4,-0.1]],
  [[0.1,-1.08],[0.25,-0.85],[0.5,-0.6],[0.75,-0.38],[0.9,-0.28],[0.98,-0.26],[1.15,-0.3],[1.4,-0.4],[1.7,-0.52],[2.0,-0.58],[2.3,-0.62],[2.6,-0.66],[3.0,-0.72],[3.3,-0.62],[3.6,-0.42],[3.85,-0.22],[4,-0.12]],
  [[0,-0.86],[0.5,-0.74],[1.0,-0.7],[1.5,-0.72],[2.0,-0.74],[2.5,-0.76],[3.0,-0.76],[3.5,-0.74],[4,-0.72]],
  [[0,-0.94],[0.5,-0.8],[1.0,-0.74],[1.4,-0.78],[1.8,-0.8],[2.2,-0.82],[2.6,-0.8],[3.0,-0.8],[3.4,-0.78],[3.8,-0.74],[4,-0.72]],
  [[0.5,-1.05],[0.7,-0.82],[0.85,-0.72],[1.0,-0.7],[1.15,-0.74],[1.3,-0.86],[1.45,-1.05]],
  [[1.1,-1.08],[1.4,-0.72],[1.55,-0.62],[1.7,-0.66],[1.85,-0.8],[2.0,-0.95],[2.1,-1.08]],
  [[1.7,-1.0],[1.9,-0.7],[2.05,-0.55],[2.18,-0.5],[2.35,-0.56],[2.55,-0.72],[2.8,-0.95],[3.0,-1.05]],
  [[3.3,-1.05],[3.5,-0.8],[3.65,-0.6],[3.8,-0.52],[3.9,-0.55],[4,-0.6]],
  [[3.3,-1.1],[3.6,-0.78],[3.75,-0.68],[3.9,-0.7],[4,-0.72]],
  [[0,-0.95],[0.2,-0.8],[0.4,-0.68],[0.55,-0.64],[0.7,-0.7],[0.9,-0.82],[1.0,-0.85],[1.2,-1.08]],
  [[0.1,-1.05],[0.3,-0.92],[0.5,-0.88],[0.7,-0.92],[0.9,-1.0],[1.0,-1.08]],
  [[1.0,-0.7],[1.3,-0.8],[1.6,-0.78],[1.9,-0.8],[2.2,-0.85],[2.5,-0.88],[2.8,-0.9],[3.0,-0.95],[3.15,-1.08]],
  [[2.85,-1.1],[3.15,-0.72],[3.45,-0.42],[3.7,-0.2],[3.9,-0.06],[4,0]],
  [[0,-0.8],[0.4,-0.86],[0.8,-0.82],[1.2,-0.9],[1.6,-0.86],[2.0,-0.9],[2.4,-0.86],[2.8,-0.84],[3.2,-0.86],[3.6,-0.82],[4,-0.8]],
  [[2.4,-1.08],[2.6,-0.94],[2.8,-0.9],[3.0,-0.98],[3.1,-1.08]]
];

const bandsE2 = [
  [[0.15,1.5],[0.38,1.0],[0.6,0.62],[0.8,0.3],[0.93,0.1],[1,0.03],[1.1,0.07],[1.3,0.2],[1.6,0.42],[1.9,0.63],[2.2,0.82],[2.55,1.0],[2.75,1.15]],
  [[0.2,1.5],[0.42,1.0],[0.63,0.65],[0.82,0.35],[0.94,0.22],[1,0.19],[1.1,0.22],[1.3,0.33],[1.6,0.52],[1.9,0.7],[2.2,0.87],[2.45,1.0],[2.6,1.1]],
  [[0.25,1.5],[0.46,1.0],[0.66,0.66],[0.85,0.34],[0.95,0.2],[1,0.17],[1.1,0.2],[1.3,0.31],[1.6,0.5],[1.9,0.68],[2.2,0.85],[2.5,1.02],[2.6,1.1]],
  [[3.15,1.2],[3.34,1.0],[3.55,0.65],[3.75,0.35],[3.9,0.1],[4,-0.02]],
  [[3.22,1.2],[3.4,1.0],[3.6,0.68],[3.8,0.4],[3.92,0.18],[4,0.08]],
  [[0,0.77],[0.2,0.66],[0.4,0.45],[0.6,0.25],[0.8,0.08],[0.95,-0.02],[1.28,-0.05],[1.7,-0.04],[2.0,-0.03],[2.25,-0.02],[2.4,0.06],[2.55,0.25],[2.7,0.42],[2.85,0.52],[3.0,0.54],[3.15,0.5],[3.3,0.43],[3.5,0.28],[3.68,0.12],[3.85,0.02],[4,-0.02]],
  [[0,0.72],[0.2,0.6],[0.4,0.4],[0.6,0.2],[0.8,0.04],[0.95,-0.05],[1.3,-0.07],[1.7,-0.06],[2.0,-0.05],[2.28,-0.04],[2.45,0.06],[2.6,0.24],[2.75,0.4],[2.9,0.47],[3.0,0.48],[3.15,0.45],[3.3,0.38],[3.5,0.22],[3.7,0.06],[3.88,-0.03],[4,-0.05]],
  [[1,0.2],[1.15,0.32],[1.3,0.45],[1.43,0.53],[1.7,0.55],[2.03,0.55],[2.4,0.58],[2.7,0.64],[2.9,0.69],[3.0,0.7],[3.15,0.66],[3.3,0.6],[3.45,0.54],[3.65,0.38],[3.83,0.2],[4,0.05]],
  [[1,0.19],[1.15,0.3],[1.3,0.45],[1.5,0.57],[1.7,0.62],[1.95,0.644],[2.25,0.66],[2.55,0.68],[2.8,0.74],[3.0,0.78],[3.2,0.74],[3.45,0.64],[3.65,0.48],[3.9,0.3],[4,0.2]],
  [[0,0.44],[0.2,0.38],[0.4,0.25],[0.6,0.1],[0.8,-0.02],[0.95,-0.08],[1.3,-0.1],[1.8,-0.1],[2.25,-0.09],[2.4,-0.07],[2.8,-0.08],[3.2,-0.09],[3.6,-0.1],[4,-0.12]],
  [[0.5,-1.08],[0.7,-0.5],[0.85,-0.25],[0.95,-0.17],[1.3,-0.17],[1.8,-0.18],[2.25,-0.19],[2.6,-0.22],[3.0,-0.23],[3.4,-0.21],[3.8,-0.19],[4,-0.18]],
  [[0.45,-1.08],[0.65,-0.55],[0.82,-0.25],[0.95,-0.15],[1.3,-0.16],[1.8,-0.17],[2.25,-0.17],[2.4,-0.18],[2.8,-0.18],[3.2,-0.18],[3.6,-0.18],[4,-0.17]],
  [[0.5,-1.05],[0.7,-0.6],[0.85,-0.25],[0.95,-0.06],[1,0],[1.1,-0.05],[1.3,-0.16],[1.6,-0.3],[1.95,-0.48],[2.3,-0.58],[2.6,-0.66],[3.0,-0.74],[3.25,-0.62],[3.5,-0.42],[3.75,-0.22],[3.92,-0.08],[4,-0.02]],
  [[0.55,-1.05],[0.75,-0.62],[0.9,-0.28],[1,-0.12],[1.15,-0.16],[1.4,-0.27],[1.7,-0.4],[2,-0.52],[2.3,-0.62],[2.6,-0.7],[3,-0.78],[3.3,-0.62],[3.55,-0.45],[3.8,-0.25],[4,-0.1]],
  [[0.05,-1.08],[0.2,-0.8],[0.35,-0.55],[0.5,-0.44],[0.7,-0.38],[0.95,-0.39],[1.3,-0.4],[1.6,-0.4],[1.9,-0.44],[2.1,-0.5],[2.4,-0.6],[2.7,-0.68],[3.0,-0.7]],
  [[0,-0.9],[0.2,-0.7],[0.4,-0.5],[0.55,-0.42],[0.7,-0.46],[0.85,-0.6],[1.0,-0.8],[1.12,-1.08]],
  [[0,-0.86],[0.5,-0.74],[1.0,-0.68],[1.5,-0.7],[2.0,-0.72],[2.5,-0.74],[3.0,-0.74],[3.5,-0.72],[4,-0.7]],
  [[0,-0.95],[0.5,-0.8],[1.0,-0.72],[1.4,-0.76],[1.8,-0.78],[2.2,-0.8],[2.6,-0.79],[3,-0.78],[3.4,-0.76],[3.8,-0.72],[4,-0.7]],
  [[0.5,-1.05],[0.7,-0.8],[0.85,-0.68],[1.0,-0.64],[1.15,-0.68],[1.3,-0.82],[1.45,-1.05]],
  [[1.3,-1.08],[1.65,-0.7],[1.85,-0.56],[2.0,-0.52],[2.2,-0.56],[2.4,-0.7],[2.6,-0.85],[2.8,-1.0],[2.9,-1.08]],
  [[0.9,-1.05],[1.05,-0.82],[1.2,-0.68],[1.3,-0.64],[1.45,-0.7],[1.6,-0.85],[1.75,-1.05]],
  [[3.3,-1.05],[3.5,-0.8],[3.65,-0.6],[3.8,-0.5],[3.9,-0.52],[4,-0.56]],
  [[3.3,-1.1],[3.6,-0.78],[3.75,-0.66],[3.9,-0.66],[4,-0.7]],
  [[0,-1.0],[0.2,-0.86],[0.4,-0.76],[0.55,-0.74],[0.7,-0.8],[0.9,-0.9],[1.05,-1.08]],
  [[1.45,-1.08],[1.6,-0.95],[1.9,-0.88],[2.2,-0.9],[2.5,-0.95],[2.8,-0.98],[2.95,-1.08]],
  [[2.0,-1.05],[2.15,-0.88],[2.3,-0.82],[2.45,-0.88],[2.6,-1.05]],
  [[2.85,-1.1],[3.15,-0.72],[3.45,-0.42],[3.7,-0.2],[3.9,-0.06],[4,0]],
  [[1.55,1.1],[1.75,0.92],[1.95,0.82],[2.05,0.78],[2.2,0.84],[2.4,1.0],[2.5,1.1]],
  [[0.4,1.1],[0.5,0.95],[0.62,0.88],[0.75,0.95],[0.9,1.1]],
  [[3.5,1.1],[3.62,0.98],[3.72,0.92],[3.85,0.97],[4,1.05]],
  [[0,-0.8],[0.4,-0.86],[0.8,-0.82],[1.2,-0.86],[1.6,-0.84],[2.0,-0.88],[2.4,-0.84],[2.8,-0.82],[3.2,-0.84],[3.6,-0.8],[4,-0.78]],
  [[2.4,-1.08],[2.6,-0.94],[2.8,-0.88],[3.0,-0.96],[3.1,-1.08]]
];

const bandsTop = [bandsA, bandsB, bandsC, bandsD, bandsE];
const bandsBottom = [bandsA2, bandsB2, bandsC2, bandsD2, bandsE2];

// ---- layout ----
const svg = d3.select("#chart");
const panelW = 178;
const panelStep = 213.25;
const firstLeft = 105;
const rows = [
  { domain: [-1.0, 1.5], range: [426, 43], ticks: yTicksTop, bands: bandsTop, fermi: fermiTop,
    titles: titlesTop, subs: subsTop, titleY: 27, showK: false },
  { domain: [-1.0, 1.0], range: [886, 503], ticks: yTicksBottom, bands: bandsBottom, fermi: fermiBottom,
    titles: titlesBottom, subs: ["", "", "", "", ""], titleY: 487, showK: true }
];

const fmt = d => d.toFixed(1);

rows.forEach((row, r) => {
  const y = d3.scaleLinear().domain(row.domain).range(row.range);
  const top = row.range[1], bottom = row.range[0];

  row.bands.forEach((bands, i) => {
    const left = firstLeft + i * panelStep;
    const x = d3.scaleLinear().domain([0, 4]).range([left, left + panelW]);
    const g = svg.append("g");
    const clipId = `clip-${r}-${i}`;
    g.append("clipPath").attr("id", clipId)
      .append("rect").attr("x", left).attr("y", top).attr("width", panelW).attr("height", bottom - top);

    const line = d3.line()
      .x(d => x(d[0]))
      .y(d => y(d[1]))
      .curve(d3.curveCatmullRom.alpha(0.5));

    const plot = g.append("g").attr("clip-path", `url(#${clipId})`);
    plot.selectAll("path.band").data(bands).join("path")
      .attr("class", "band")
      .attr("d", line)
      .attr("fill", "none")
      .attr("stroke", "#000")
      .attr("stroke-width", 1.7)
      .attr("stroke-linejoin", "round");

    // Fermi level
    plot.append("line")
      .attr("x1", left).attr("x2", left + panelW)
      .attr("y1", y(row.fermi[i])).attr("y2", y(row.fermi[i]))
      .attr("stroke", "#f00000")
      .attr("stroke-width", 2.6)
      .attr("stroke-dasharray", "12,7");

    // inner ticks on both sides
    const inner = row.ticks.filter(t => t > row.domain[0] && t < row.domain[1]);
    g.selectAll("line.tl").data(inner).join("line")
      .attr("x1", left).attr("x2", left + 11)
      .attr("y1", d => y(d)).attr("y2", d => y(d))
      .attr("stroke", "#000").attr("stroke-width", 2);
    g.selectAll("line.tr").data(inner).join("line")
      .attr("x1", left + panelW - 11).attr("x2", left + panelW)
      .attr("y1", d => y(d)).attr("y2", d => y(d))
      .attr("stroke", "#000").attr("stroke-width", 2);

    // frame
    g.append("rect")
      .attr("x", left).attr("y", top).attr("width", panelW).attr("height", bottom - top)
      .attr("fill", "none").attr("stroke", "#000").attr("stroke-width", 2.4);

    // title
    const t = g.append("text")
      .attr("x", left + panelW / 2).attr("y", row.titleY)
      .attr("text-anchor", "middle")
      .attr("font-size", 20);
    t.append("tspan").text(row.titles[i]);
    if (row.subs[i]) {
      t.append("tspan").attr("font-size", 14).attr("dy", 6).text(row.subs[i]);
    }

    // k-point labels
    if (row.showK) {
      g.selectAll("text.k").data(kTicks).join("text")
        .attr("x", d => x(d)).attr("y", 913)
        .attr("text-anchor", "middle")
        .attr("font-size", 19)
        .style("font-family", (d, j) => kLabels[j] === "Γ" ? "'Liberation Serif', 'Times New Roman', serif" : null)
        .text((d, j) => kLabels[j]);
    }

    // y tick labels on the first column only
    if (i === 0) {
      g.selectAll("text.yl").data(row.ticks).join("text")
        .attr("x", left - 13).attr("y", d => y(d))
        .attr("dy", "0.36em")
        .attr("text-anchor", "end")
        .attr("font-size", 19)
        .text(fmt);
      const cy = (top + bottom) / 2;
      g.append("text")
        .attr("transform", `translate(28,${cy}) rotate(-90)`)
        .attr("text-anchor", "middle")
        .attr("font-size", 20)
        .text("Energia (eV)");
    }
  });
});
</script>
</body>
</html>
